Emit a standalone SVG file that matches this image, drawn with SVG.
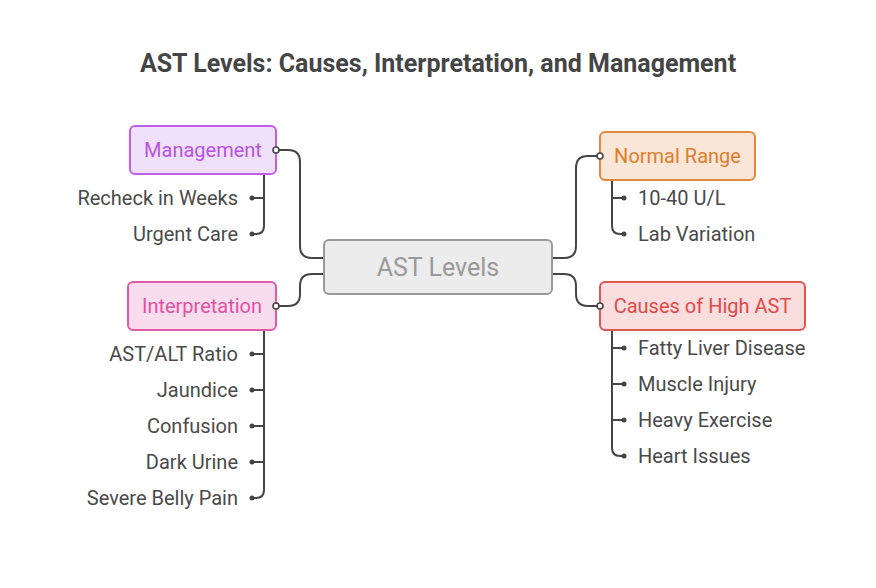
<svg xmlns="http://www.w3.org/2000/svg" width="876" height="588" viewBox="0 0 876 588">
  <style>
    .title { font-family: Roboto, "Liberation Sans", sans-serif; font-size: 25px; font-weight: bold; fill: #454545; }
    .box { stroke-width: 2; }
    .head { font-family: Roboto, "Liberation Sans", sans-serif; font-size: 20px; dominant-baseline: central; }
    .leaf { font-family: Roboto, "Liberation Sans", sans-serif; font-size: 20px; fill: #4a4a4a; dominant-baseline: central; }
    .wire { fill: none; stroke: #454545; stroke-width: 2; }
    .dot { fill: #454545; }
    .port { fill: #ffffff; stroke: #454545; stroke-width: 1.6; }
  </style>
  <rect width="876" height="588" fill="#ffffff"/>
  <text class="title" x="438" y="72" text-anchor="middle">AST Levels: Causes, Interpretation, and Management</text>

  <!-- connectors -->
  <g id="connectors">
    <!-- center to branches -->
    <path class="wire" d="M324,258 H312 Q300,258 300,246 V162 Q300,150 288,150 H276"/>
    <path class="wire" d="M324,274 H312 Q300,274 300,286 V294 Q300,306 288,306 H276"/>
    <path class="wire" d="M552,258 H564 Q576,258 576,246 V168 Q576,156 588,156 H600"/>
    <path class="wire" d="M552,274 H564 Q576,274 576,286 V294 Q576,306 588,306 H600"/>
    <!-- Management children -->
    <path class="wire" d="M264,174 V226 Q264,234 256,234 H252 M264,198 H252"/>
    <!-- Interpretation children -->
    <path class="wire" d="M264,330 V490 Q264,498 256,498 H252 M264,354 H252 M264,390 H252 M264,426 H252 M264,462 H252"/>
    <!-- Normal Range children -->
    <path class="wire" d="M612,180 V226 Q612,234 620,234 H624 M612,198 H624"/>
    <!-- Causes children -->
    <path class="wire" d="M612,330 V448 Q612,456 620,456 H624 M612,348 H624 M612,384 H624 M612,420 H624"/>
    <g>
      <circle class="dot" cx="252" cy="198" r="2.5"/>
      <circle class="dot" cx="252" cy="234" r="2.5"/>
      <circle class="dot" cx="252" cy="354" r="2.5"/>
      <circle class="dot" cx="252" cy="390" r="2.5"/>
      <circle class="dot" cx="252" cy="426" r="2.5"/>
      <circle class="dot" cx="252" cy="462" r="2.5"/>
      <circle class="dot" cx="252" cy="498" r="2.5"/>
      <circle class="dot" cx="624" cy="198" r="2.5"/>
      <circle class="dot" cx="624" cy="234" r="2.5"/>
      <circle class="dot" cx="624" cy="348" r="2.5"/>
      <circle class="dot" cx="624" cy="384" r="2.5"/>
      <circle class="dot" cx="624" cy="420" r="2.5"/>
      <circle class="dot" cx="624" cy="456" r="2.5"/>
    </g>
  </g>

  <!-- central node -->
  <g id="ast-levels">
    <rect class="box" x="324" y="240" width="228" height="54" rx="5" fill="#ececec" stroke="#9a9a9a"/>
    <text x="438" y="267" text-anchor="middle" dominant-baseline="central" font-family="Roboto, 'Liberation Sans', sans-serif" font-size="25" fill="#999999">AST Levels</text>
  </g>

  <!-- Management -->
  <g id="management">
    <rect class="box" x="130" y="126" width="146" height="48" rx="5" fill="#f1e0fa" stroke="#c25de6"/>
    <text class="head" x="203" y="150" text-anchor="middle" fill="#b553e2">Management</text>
    <circle class="port" cx="276" cy="150" r="3"/>
  </g>
  <g id="recheck-in-weeks"><text class="leaf" x="238" y="198" text-anchor="end">Recheck in Weeks</text></g>
  <g id="urgent-care"><text class="leaf" x="238" y="234" text-anchor="end">Urgent Care</text></g>

  <!-- Interpretation -->
  <g id="interpretation">
    <rect class="box" x="128" y="282" width="148" height="48" rx="5" fill="#f9ddef" stroke="#e05aa8"/>
    <text class="head" x="202" y="306" text-anchor="middle" fill="#e052a2">Interpretation</text>
    <circle class="port" cx="276" cy="306" r="3"/>
  </g>
  <g id="ast-alt-ratio"><text class="leaf" x="238" y="354" text-anchor="end">AST/ALT Ratio</text></g>
  <g id="jaundice"><text class="leaf" x="238" y="390" text-anchor="end">Jaundice</text></g>
  <g id="confusion"><text class="leaf" x="238" y="426" text-anchor="end">Confusion</text></g>
  <g id="dark-urine"><text class="leaf" x="238" y="462" text-anchor="end">Dark Urine</text></g>
  <g id="severe-belly-pain"><text class="leaf" x="238" y="498" text-anchor="end">Severe Belly Pain</text></g>

  <!-- Normal Range -->
  <g id="normal-range">
    <rect class="box" x="600" y="132" width="155" height="48" rx="5" fill="#fae6d6" stroke="#e08a3c"/>
    <text class="head" x="677.5" y="156" text-anchor="middle" fill="#e07c2c">Normal Range</text>
    <circle class="port" cx="600" cy="156" r="3"/>
  </g>
  <g id="range-10-40"><text class="leaf" x="638" y="198">10-40 U/L</text></g>
  <g id="lab-variation"><text class="leaf" x="638" y="234">Lab Variation</text></g>

  <!-- Causes of High AST -->
  <g id="causes-of-high-ast">
    <rect class="box" x="600" y="282" width="205" height="48" rx="5" fill="#fadddd" stroke="#e05555"/>
    <text class="head" x="702.5" y="306" text-anchor="middle" fill="#e04a4a">Causes of High AST</text>
    <circle class="port" cx="600" cy="306" r="3"/>
  </g>
  <g id="fatty-liver-disease"><text class="leaf" x="638" y="348">Fatty Liver Disease</text></g>
  <g id="muscle-injury"><text class="leaf" x="638" y="384">Muscle Injury</text></g>
  <g id="heavy-exercise"><text class="leaf" x="638" y="420">Heavy Exercise</text></g>
  <g id="heart-issues"><text class="leaf" x="638" y="456">Heart Issues</text></g>
</svg>
